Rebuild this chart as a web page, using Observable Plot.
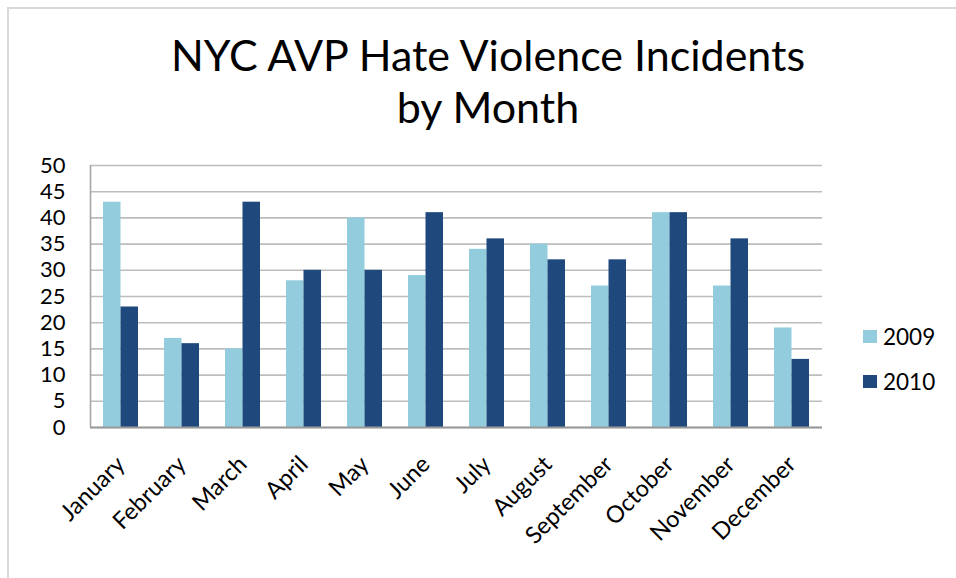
<!DOCTYPE html>
<html><head><meta charset="utf-8">
<script src="https://cdn.jsdelivr.net/npm/d3@7"></script>
<script src="https://cdn.jsdelivr.net/npm/@observablehq/plot@0.6"></script>
<style>
body{margin:0;background:#fff;}
#wrap{position:relative;width:956px;height:578px;overflow:hidden;font-family:Lato,"Open Sans",sans-serif;color:#000;}
#border{position:absolute;left:7px;top:7px;width:980px;height:600px;border-left:2px solid #d9d9d9;border-top:2px solid #d9d9d9;}
#title{position:absolute;left:0;width:976px;top:29px;text-align:center;font-size:43px;line-height:52px;}
#chart{position:absolute;left:0;top:0;}
.leg{position:absolute;left:863px;font-size:22.5px;display:flex;align-items:center;}
.sw{width:14px;height:13px;margin-right:6px;}
</style></head>
<body>
<div id="wrap">
  <div id="border"></div>
  <div id="chart"></div>
  <div id="title">NYC AVP Hate Violence Incidents<br>by Month</div>
  <div id="legend"></div>
</div>
<script>
const months = ["January","February","March","April","May","June","July","August","September","October","November","December"];
const years = ["2009","2010"];
const v2009 = [43,17,15,28,40,29,34,35,27,41,27,19];
const v2010 = [23,16,43,30,30,41,36,32,32,41,36,13];
const yTicks = [0,5,10,15,20,25,30,35,40,45,50];
const colors = ["#93CDDD","#1F497D"];

const rows2009 = months.map((m,i)=>({month:m, year:years[0], value:v2009[i]}));
const rows2010 = months.map((m,i)=>({month:m, year:years[1], value:v2010[i]}));

const chart = Plot.plot({
  width: 956, height: 578,
  marginLeft: 90, marginRight: 134, marginTop: 165, marginBottom: 151,
  x: {domain: months, padding: 0, label: null},
  y: {domain: [0,50], label: null},
  color: {domain: years, range: colors},
  style: {fontFamily: "Lato, 'Open Sans', sans-serif", fontSize: "20px", color: "#000", background: "transparent"},
  marks: [
    Plot.ruleY(yTicks, {stroke: "#bdbdbd", strokeWidth: 1.6}),
    Plot.barY(rows2009, {x: "month", y: "value", fill: "year", insetLeft: 13, insetRight: 30.5}),
    Plot.barY(rows2010, {x: "month", y: "value", fill: "year", insetLeft: 30.5, insetRight: 13}),
    Plot.ruleY([0], {stroke: "#999", strokeWidth: 2}),
    Plot.ruleX([months[0]], {dx: -30.5, y1: 0, y2: 50, stroke: "#a6a6a6", strokeWidth: 1.6}),
    Plot.axisY({ticks: yTicks, tickSize: 0, tickPadding: 25, fontSize: 22, label: null}),
    Plot.axisX({tickRotate: -45, tickSize: 0, tickPadding: 33, fontSize: 23.5, label: null})
  ]
});
document.getElementById("chart").appendChild(chart);

const legend = document.getElementById("legend");
const legTops = [323, 368];
years.forEach((y,i)=>{
  const d = document.createElement("div");
  d.className = "leg";
  d.style.top = legTops[i] + "px";
  d.innerHTML = `<div class="sw" style="background:${colors[i]}"></div><span>${y}</span>`;
  legend.appendChild(d);
});
</script>
</body></html>
